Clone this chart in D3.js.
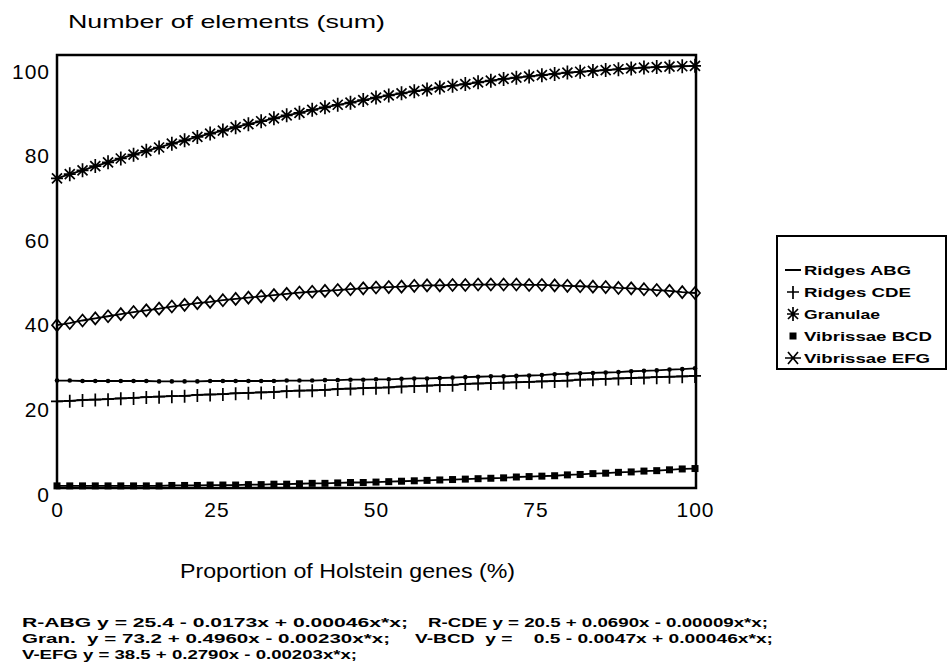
<!DOCTYPE html>
<html>
<head>
<meta charset="utf-8">
<script src="https://cdn.jsdelivr.net/npm/d3@7"></script>
<style>
body { margin: 0; background: #fff; }
text { font-family: "Liberation Sans", Arial, sans-serif; fill: #000; }
</style>
</head>
<body>
<div id="chart-area"></div>
<script>
// Data (proportion of Holstein genes, %)
var holstein = [0,2,4,6,8,10,12,14,16,18,20,22,24,26,28,30,32,34,36,38,40,42,44,46,48,50,
	52,54,56,58,60,62,64,66,68,70,72,74,76,78,80,82,84,86,88,90,92,94,96,98,100]

var ridgesABG = [25.4,25.4,25.3,25.3,25.3,25.3,25.3,25.3,25.2,25.2,25.2,25.2,25.3,25.3,25.3,25.3,25.3,25.3,25.4,25.4,
	25.4,25.5,25.5,25.6,25.6,25.7,25.7,25.8,25.9,25.9,26.0,26.1,26.2,26.3,26.4,26.4,26.5,26.6,26.7,26.9,
	27.0,27.1,27.2,27.3,27.4,27.6,27.7,27.8,28.0,28.1,28.3]

var ridgesCDE = [20.5,20.6,20.8,20.9,21.0,21.2,21.3,21.5,21.6,21.7,21.8,22.0,22.1,22.2,22.4,22.5,22.6,22.7,22.9,23.0,
	23.1,23.2,23.4,23.5,23.6,23.7,23.8,24.0,24.1,24.2,24.3,24.4,24.6,24.7,24.8,24.9,25.0,25.1,25.2,25.3,
	25.4,25.6,25.7,25.8,25.9,26.0,26.1,26.2,26.3,26.4,26.5]

var granulae = [73.2,74.2,75.1,76.1,77.0,77.9,78.8,79.7,80.5,81.4,82.2,83.0,83.8,84.5,85.3,86.0,86.7,87.4,88.1,88.7,
	89.4,90.0,90.6,91.1,91.7,92.3,92.8,93.3,93.8,94.2,94.7,95.1,95.5,95.9,96.3,96.7,97.0,97.3,97.6,97.9,
	98.2,98.4,98.6,98.8,99.0,99.2,99.4,99.5,99.6,99.7,99.8]

var vibrissaeBCD = [0.5,0.5,0.5,0.5,0.5,0.5,0.5,0.5,0.5,0.6,0.6,0.6,0.7,0.7,0.7,0.8,0.8,0.9,0.9,1.0,
	1.1,1.1,1.2,1.3,1.3,1.4,1.5,1.6,1.7,1.8,1.9,2.0,2.1,2.2,2.3,2.4,2.6,2.7,2.8,2.9,
	3.1,3.2,3.4,3.5,3.7,3.8,4.0,4.1,4.3,4.5,4.6]

var vibrissaeEFG = [38.5,39.0,39.6,40.1,40.6,41.1,41.6,42.0,42.4,42.9,43.3,43.7,44.0,44.4,44.7,45.0,45.3,45.6,45.9,46.2,
	46.4,46.6,46.8,47.0,47.2,47.4,47.5,47.6,47.8,47.9,47.9,48.0,48.0,48.1,48.1,48.1,48.1,48.0,48.0,47.9,
	47.8,47.7,47.6,47.5,47.3,47.2,47.0,46.8,46.6,46.3,46.1]

var xTicks = [0, 25, 50, 75, 100]
var yTicks = [0, 20, 40, 60, 80, 100]

var seriesNames = ["Ridges ABG", "Ridges CDE", "Granulae", "Vibrissae BCD", "Vibrissae EFG"]
var seriesMarks = ["dot", "plus", "star", "square", "diamond"]
var legendMarks = ["dash", "plus", "star", "square", "xstar"]
var legendWidths = [107, 107, 76, 128, 126]

var eqLeft = ["R-ABG y = 25.4 - 0.0173x + 0.00046x*x;", "Gran.  y = 73.2 + 0.4960x - 0.00230x*x;", "V-EFG y = 38.5 + 0.2790x - 0.00203x*x;"]
var eqLeftWidths = [386, 368, 335]
var eqRight = ["R-CDE y = 20.5 + 0.0690x - 0.00009x*x;", "V-BCD  y =    0.5 - 0.0047x + 0.00046x*x;"]
var eqRightWidths = [340, 358]

var width = 950
var height = 668

var svg = d3.select("#chart-area").append("svg")
.attr("width", width)
.attr("height", height)

var x = d3.scaleLinear()
.domain([0, 100])
.range([57, 695])

var y = d3.scaleLinear()
.domain([0, 100])
.range([488, 65])

// Frame

svg.append("rect")
.attr("x", 57)
.attr("y", 55)
.attr("width", 639)
.attr("height", 433)
.attr("fill", "none")
.attr("stroke", "#000")
.attr("stroke-width", 2.5)

// Axes

var xAxisGroup = svg.append("g")
.attr("transform", "translate(0, 488)")
.call(d3.axisBottom(x).tickValues(xTicks).tickSize(0).tickPadding(14))

var yAxisGroup = svg.append("g")
.attr("transform", "translate(57, 0)")
.call(d3.axisLeft(y).tickValues(yTicks).tickSize(0).tickPadding(7))

xAxisGroup.select(".domain").remove()
yAxisGroup.select(".domain").remove()

svg.selectAll(".tick text")
.attr("font-size", "21px")
.attr("letter-spacing", "1px")
.style("font-family", "'Liberation Sans', Arial, sans-serif")

yAxisGroup.selectAll(".tick text").attr("dy", "0.62em")

// Axis labels

svg.append("text")
.attr("x", 68)
.attr("y", 28)
.attr("font-size", "19px")
.attr("textLength", 317)
.attr("lengthAdjust", "spacingAndGlyphs")
.text("Number of elements (sum)")

svg.append("text")
.attr("x", 180)
.attr("y", 578)
.attr("font-size", "20px")
.attr("textLength", 335)
.attr("lengthAdjust", "spacingAndGlyphs")
.text("Proportion of Holstein genes (%)")

// Markers

var drawMark = (sel, type) => {
	if (type == "dot") {
		sel.append("circle").attr("r", 2.3).attr("fill", "#000")
	} else if (type == "dash") {
		sel.append("path").attr("d", "M-8,0H8").attr("stroke", "#000").attr("stroke-width", 2)
	} else if (type == "plus") {
		sel.append("path").attr("d", "M0,-6V7M-6,0H6")
		.attr("stroke", "#000").attr("stroke-width", 1.7)
	} else if (type == "star") {
		sel.append("path").attr("d", "M0,-7V7M-5,-5L5,5M-5,5L5,-5M-6,0H6")
		.attr("stroke", "#000").attr("stroke-width", 1.7)
	} else if (type == "square") {
		sel.append("rect").attr("x", -3.5).attr("y", -3.5).attr("width", 7).attr("height", 7).attr("fill", "#000")
	} else if (type == "diamond") {
		sel.append("path").attr("d", "M0,-6L5,0L0,6L-5,0Z")
		.attr("fill", "none").attr("stroke", "#000").attr("stroke-width", 1.7)
	} else if (type == "xstar") {
		sel.append("path").attr("d", "M-5,-6L5,6M-5,6L5,-6M-8,0H8")
		.attr("stroke", "#000").attr("stroke-width", 1.7)
	}
}

// Series

var allSeries = [ridgesABG, ridgesCDE, granulae, vibrissaeBCD, vibrissaeEFG]

var line = d3.line()
.x((d, i) => x(holstein[i]))
.y(d => y(d))

allSeries.forEach((values, k) => {
	svg.append("path")
	.attr("d", line(values))
	.attr("fill", "none")
	.attr("stroke", "#000")
	.attr("stroke-width", 1.8)
})

allSeries.forEach((values, k) => {
	var marks = svg.append("g").selectAll("g")
	.data(values)
	.enter().append("g")
	.attr("transform", (d, i) => "translate(" + x(holstein[i]) + "," + y(d) + ")")

	marks.each(function (d) {
		drawMark(d3.select(this), seriesMarks[k])
	})
})

// Legend

var legend = svg.append("g")
.attr("transform", "translate(777, 236)")

legend.append("rect")
.attr("width", 169)
.attr("height", 133)
.attr("fill", "#fff")
.attr("stroke", "#000")
.attr("stroke-width", 2)

seriesNames.forEach((name, i) => {
	var legendRow = legend.append("g")
	.attr("transform", "translate(0, " + (34 + i * 22) + ")")

	var m = legendRow.append("g").attr("transform", "translate(16, 0)")
	drawMark(m, legendMarks[i])

	legendRow.append("text")
	.attr("x", 27)
	.attr("y", 5)
	.attr("font-size", "13.5px")
	.attr("font-weight", "bold")
	.attr("textLength", legendWidths[i])
	.attr("lengthAdjust", "spacingAndGlyphs")
	.text(name)
})

// Fitted equations

var eqTop = 627

eqLeft.forEach((eq, i) => {
	svg.append("text")
	.attr("x", 22)
	.attr("y", eqTop + i * 16)
	.attr("font-size", "13.5px")
	.attr("font-weight", "bold")
	.attr("textLength", eqLeftWidths[i])
	.attr("lengthAdjust", "spacingAndGlyphs")
	.style("white-space", "pre")
	.text(eq)
})

eqRight.forEach((eq, i) => {
	svg.append("text")
	.attr("x", i == 0 ? 428 : 415)
	.attr("y", eqTop + i * 16)
	.attr("font-size", "13.5px")
	.attr("font-weight", "bold")
	.attr("textLength", eqRightWidths[i])
	.attr("lengthAdjust", "spacingAndGlyphs")
	.style("white-space", "pre")
	.text(eq)
})
</script>
</body>
</html>
